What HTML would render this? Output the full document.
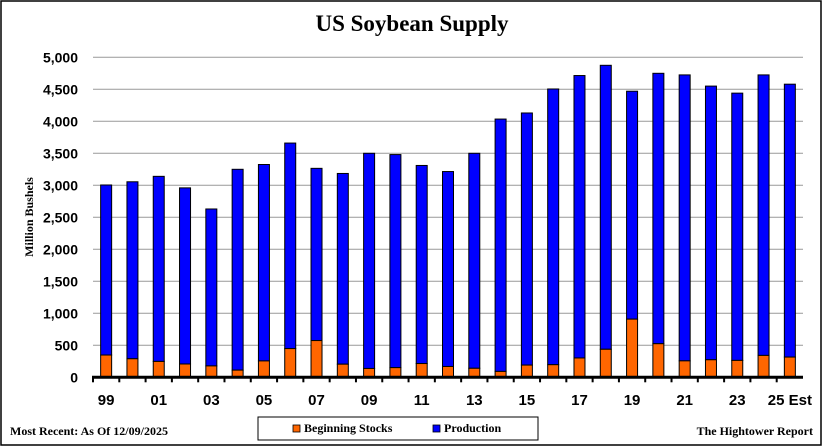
<!DOCTYPE html>
<html><head><meta charset="utf-8"><style>
body{margin:0;background:#fff;}
svg{display:block;font-family:"Liberation Sans",sans-serif;}
</style></head><body>
<svg id="chart" width="824" height="447">
<rect x="1" y="1" width="820" height="444" fill="#fff" stroke="#000" stroke-width="1.5"/>
<text x="412" y="31" text-anchor="middle" font-family="Liberation Serif,serif" font-weight="bold" font-size="23">US Soybean Supply</text>
<text transform="translate(33,217) rotate(-90)" text-anchor="middle" font-family="Liberation Serif,serif" font-weight="bold" font-size="12">Million Bushels</text>
<g id="grid"></g><g id="bars"></g><g id="axes"></g>
<text x="10" y="435" font-family="Liberation Serif,serif" font-weight="bold" font-size="12">Most Recent: As Of 12/09/2025</text>
<text x="813" y="435" text-anchor="end" font-family="Liberation Serif,serif" font-weight="bold" font-size="12">The Hightower Report</text>
<g>
<rect x="258" y="417" width="280" height="23" fill="#fff" stroke="#000" stroke-width="1"/>
<g><rect x="293" y="425" width="7" height="7" fill="#ff6600" stroke="#000" stroke-width="0.8"/>
<text x="304" y="432" font-family="Liberation Serif,serif" font-weight="bold" font-size="12">Beginning Stocks</text></g>
<g><rect x="433" y="425" width="7" height="7" fill="#0000ff" stroke="#000" stroke-width="0.8"/>
<text x="444" y="432" font-family="Liberation Serif,serif" font-weight="bold" font-size="12">Production</text></g>
</g>
</svg>
<script>
const years=["99","00","01","02","03","04","05","06","07","08","09","10","11","12","13","14","15","16","17","18","19","20","21","22","23","24","25 Est"];
const totalSupply=[3005,3055,3140,2960,2630,3250,3325,3660,3265,3185,3500,3480,3310,3215,3500,4035,4130,4505,4715,4875,4470,4750,4725,4550,4440,4725,4580];
const beginningStocks=[348,290,248,208,178,112,256,449,574,205,138,151,215,169,141,92,191,197,302,438,909,525,257,274,264,342,316];
const yTicks=[0,500,1000,1500,2000,2500,3000,3500,4000,4500,5000];
const NS="http://www.w3.org/2000/svg";
const x0=93,x1=803,yBase=377.3,yTop=57.3,yMax=5000;
const step=(x1-x0)/years.length;
function xs(i){return x0+step*(i+0.5);}
function ys(v){return yBase-(v/yMax)*(yBase-yTop);}
function mk(tag,attrs,parent){const e=document.createElementNS(NS,tag);for(const k in attrs)e.setAttribute(k,attrs[k]);parent.appendChild(e);return e;}
const grid=document.getElementById('grid'),bars=document.getElementById('bars'),axes=document.getElementById('axes');
yTicks.forEach(t=>{
  if(t>0){const l=mk('line',{x1:x0,x2:x1,y1:ys(t),y2:ys(t),stroke:'#999','stroke-width':1},grid);
  
  }
  const tx=mk('text',{x:78,y:ys(t)+5,'text-anchor':'end','font-weight':'bold','font-size':14},axes);
  tx.textContent=t.toLocaleString('en-US');
  
  
});
const w=11;
years.forEach((y,i)=>{
  const p=mk('rect',{x:xs(i)-w/2,y:ys(totalSupply[i]),width:w,height:ys(beginningStocks[i])-ys(totalSupply[i]),fill:'#0000ff',stroke:'#000','stroke-width':1},bars);
  
  
  const s=mk('rect',{x:xs(i)-w/2,y:ys(beginningStocks[i]),width:w,height:yBase-ys(beginningStocks[i]),fill:'#ff6600',stroke:'#000','stroke-width':1},bars);
  
  
  const tk=mk('line',{x1:x0+step*i,x2:x0+step*i,y1:yBase,y2:yBase+5,stroke:'#000','stroke-width':2},axes);
  
  
  if(i%2===0){const lb=mk('text',{x:xs(i),y:405,'text-anchor':'middle','font-weight':'bold','font-size':15},axes);
  lb.textContent=y;
  
  }
});
const ax=mk('line',{x1:x0-1,x2:x1,y1:yBase,y2:yBase,stroke:'#000','stroke-width':3},axes);


</script>
</body></html>
